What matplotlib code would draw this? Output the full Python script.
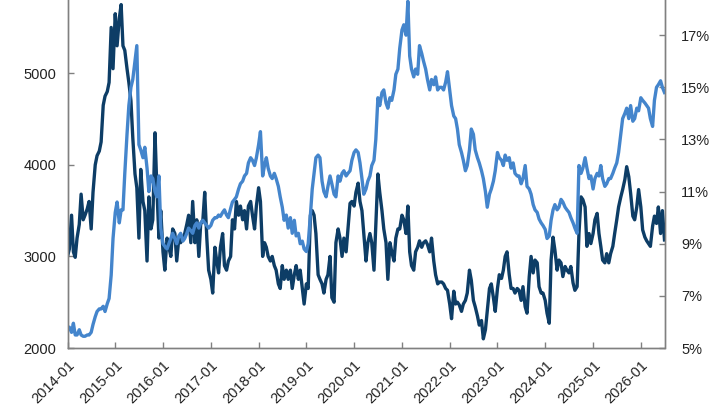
import numpy as np
import pandas as pd
import matplotlib
matplotlib.use("Agg")
import matplotlib.pyplot as plt
import matplotlib.dates as mdates
from matplotlib.ticker import FuncFormatter

plt.rcParams['font.family'] = ['Liberation Sans', 'DejaVu Sans']

# semi-monthly observations, 2014-01 .. 2026-07
dates = pd.date_range('2014-01-01', periods=301, freq='SMS')

# left axis series (index level), one line per year
index_level = [
    3000, 3080, 3450, 3050, 2990, 3200, 3350, 3680, 3400, 3450, 3520, 3600, 3300, 3700, 4000, 4100, 4150, 4250, 4650, 4750, 4800, 4900, 5500, 5050,
    5650, 5300, 5600, 5750, 5300, 5250, 5050, 4900, 4700, 4300, 3900, 3750, 3200, 3950, 3600, 3500, 2950, 3650, 3300, 3400, 4350, 3750, 3200, 3500,
    3050, 2850, 3200, 3100, 3000, 3300, 3250, 2950, 3200, 3150, 3200, 3250, 3350, 3450, 3150, 3600, 3150, 3400, 3000, 3350, 3400, 3700, 3200, 2850,
    2750, 2600, 3100, 2950, 2820, 3100, 3250, 2900, 2850, 2950, 3000, 3400, 3300, 3600, 3450, 3550, 3400, 3500, 3300, 3550, 3600, 3450, 3300, 3550,
    3750, 3600, 3000, 3150, 3100, 3000, 2950, 3000, 2900, 2850, 2700, 2650, 2900, 2750, 2850, 2750, 2850, 2650, 2800, 2900, 2750, 2850, 2650, 2480,
    2700, 2650, 3450, 3500, 3450, 3250, 2800, 2750, 2700, 2600, 2750, 2800, 3000, 2550, 2500, 3150, 3300, 3200, 3000, 3200, 3050, 3300, 3580, 3600,
    3550, 3700, 3800, 3600, 3500, 3250, 2950, 3150, 3250, 3150, 2850, 3350, 3900, 3700, 3500, 3300, 3150, 2750, 3150, 3050, 2950, 3200, 3300, 3300,
    3450, 3400, 3250, 3550, 3050, 2900, 2850, 3050, 3100, 3170, 3100, 3150, 3170, 3130, 3050, 3200, 2950, 2800, 2700, 2720, 2720, 2700, 2650, 2630,
    2480, 2320, 2620, 2480, 2500, 2470, 2400, 2480, 2520, 2600, 2850, 2740, 2520, 2450, 2350, 2250, 2300, 2100, 2200, 2400, 2650, 2700, 2550, 2400,
    2650, 2800, 2760, 2850, 3000, 3050, 2800, 2650, 2650, 2600, 2650, 2630, 2520, 2670, 2450, 2380, 2780, 3000, 2820, 2960, 2930, 2670, 2600, 2600,
    2520, 2380, 2270, 2960, 3210, 3070, 2850, 2960, 2930, 2780, 2890, 2850, 2820, 2890, 2710, 2630, 2670, 3250, 3650, 3620, 3540, 3110, 3250, 3140,
    3250, 3400, 3470, 3250, 3110, 2960, 2930, 3030, 2930, 3030, 3110, 3250, 3400, 3540, 3650, 3730, 3840, 3980, 3870, 3690, 3440, 3400, 3540, 3730,
    3540, 3290, 3210, 3170, 3140, 3110, 3330, 3440, 3360, 3540, 3250, 3500, 3180,
]

# right axis series (percent), one line per year
ratio_pct = [
    5.7, 5.8, 5.6, 5.95, 5.5, 5.5, 5.7, 5.5, 5.45, 5.45, 5.5, 5.5, 5.6, 5.9, 6.2, 6.4, 6.5, 6.5, 6.6, 6.4, 6.7, 6.9, 7.8, 9.2,
    10.2, 10.6, 9.8, 10.3, 10.3, 11.7, 13.2, 14.3, 15.0, 15.3, 16.0, 16.6, 12.8, 12.6, 12.3, 12.7, 11.9, 11.0, 11.6, 11.5, 11.0, 10.8, 11.6, 9.6,
    9.0, 8.9, 8.8, 9.0, 9.2, 9.4, 9.2, 9.0, 9.3, 9.4, 9.1, 9.2, 9.4, 9.6, 9.5, 9.4, 9.7, 9.8, 9.6, 9.8, 9.9, 9.8, 9.7, 9.6,
    9.7, 9.9, 10.0, 10.0, 10.1, 10.05, 10.2, 10.3, 10.1, 10.0, 10.35, 10.6, 10.7, 10.8, 11.1, 11.3, 11.4, 11.6, 11.7, 12.1, 12.3, 12.2, 12.0, 12.3,
    12.8, 13.3, 11.6, 12.0, 12.3, 11.9, 11.6, 11.5, 11.7, 11.5, 11.2, 10.8, 10.4, 9.9, 10.1, 9.6, 10.0, 9.4, 9.9, 9.3, 9.4, 9.0, 9.1, 8.8,
    8.7, 9.0, 10.1, 11.1, 11.7, 12.3, 12.4, 12.3, 11.4, 11.0, 10.8, 11.2, 11.6, 11.3, 10.9, 10.8, 11.6, 11.4, 11.7, 11.8, 11.6, 11.7, 11.8, 12.2,
    12.5, 12.6, 12.5, 12.1, 11.5, 10.9, 11.1, 11.4, 11.6, 12.0, 12.2, 13.0, 14.6, 14.3, 14.8, 14.9, 14.4, 14.2, 14.6, 14.5, 14.9, 15.5, 15.7, 16.5,
    17.2, 17.4, 17.0, 18.3, 16.2, 15.7, 15.4, 15.7, 15.5, 16.6, 16.3, 16.0, 15.7, 15.3, 14.9, 15.3, 15.1, 15.4, 14.9, 15.0, 15.0, 14.9, 15.2, 15.6,
    14.9, 14.3, 13.9, 13.8, 13.4, 12.8, 12.5, 12.2, 11.8, 12.0, 12.6, 13.4, 13.2, 12.6, 12.3, 12.1, 11.8, 11.5, 11.0, 10.4, 10.9, 11.1, 11.4, 11.8,
    12.5, 12.3, 12.2, 12.0, 12.4, 12.2, 12.3, 11.9, 12.1, 11.7, 11.6, 11.6, 11.3, 11.5, 12.0, 11.2, 11.1, 10.9, 10.5, 10.3, 10.2, 9.95, 9.8, 9.7,
    9.55, 9.2, 9.3, 9.9, 10.3, 10.5, 10.3, 10.4, 10.7, 10.6, 10.4, 10.3, 10.2, 10.0, 9.8, 9.6, 9.4, 12.0, 11.7, 11.9, 12.3, 11.9, 11.5, 11.6,
    11.1, 11.5, 11.7, 11.6, 12.0, 11.5, 11.2, 11.3, 11.5, 11.5, 11.7, 11.9, 12.1, 12.5, 13.2, 13.8, 14.0, 14.2, 13.8, 14.3, 13.7, 13.8, 14.2, 14.1,
    14.6, 14.5, 14.4, 14.3, 14.2, 13.8, 13.5, 14.5, 15.0, 15.1, 15.25, 15.0, 14.8,
]

left_ticks = [2000, 3000, 4000, 5000]
right_ticks = [5, 7, 9, 11, 13, 15, 17]

dark = '#0d3d66'
light = '#4485cc'
spine_col = '#808080'

fig = plt.figure(figsize=(7.2, 4.05), dpi=100)
ax = fig.add_axes([67.5 / 720, 57 / 405, 597 / 720, 348 / 405])
ax2 = ax.twinx()

ax.plot(dates, index_level, color=dark, lw=2.4, zorder=3)
ax2.plot(dates, ratio_pct, color=light, lw=2.4)

ax.set_xlim(dates[0], dates[-1])
ax.set_ylim(2000, 5800)
ax2.set_ylim(5, 18.35)
ax.set_yticks(left_ticks)
ax2.set_yticks(right_ticks)
ax2.yaxis.set_major_formatter(FuncFormatter(lambda v, p: f'{v:.0f}%'))

ax.xaxis.set_major_locator(mdates.YearLocator())
ax.xaxis.set_major_formatter(mdates.DateFormatter('%Y-%m'))
for lab in ax.get_xticklabels():
    lab.set_rotation(45)
    lab.set_ha('right')
    lab.set_rotation_mode('anchor')

for a in (ax, ax2):
    a.spines['top'].set_visible(False)
    for s in ('left', 'right', 'bottom'):
        a.spines[s].set_color(spine_col)
        a.spines[s].set_linewidth(1.0)
    a.tick_params(direction='in', length=4, width=1, color=spine_col,
                  labelsize=10.5, labelcolor='#222222')
ax.tick_params(axis='y', pad=8)
ax.tick_params(axis='x', pad=7)
ax2.tick_params(axis='y', pad=12)

fig.savefig('out.png', dpi=100)
